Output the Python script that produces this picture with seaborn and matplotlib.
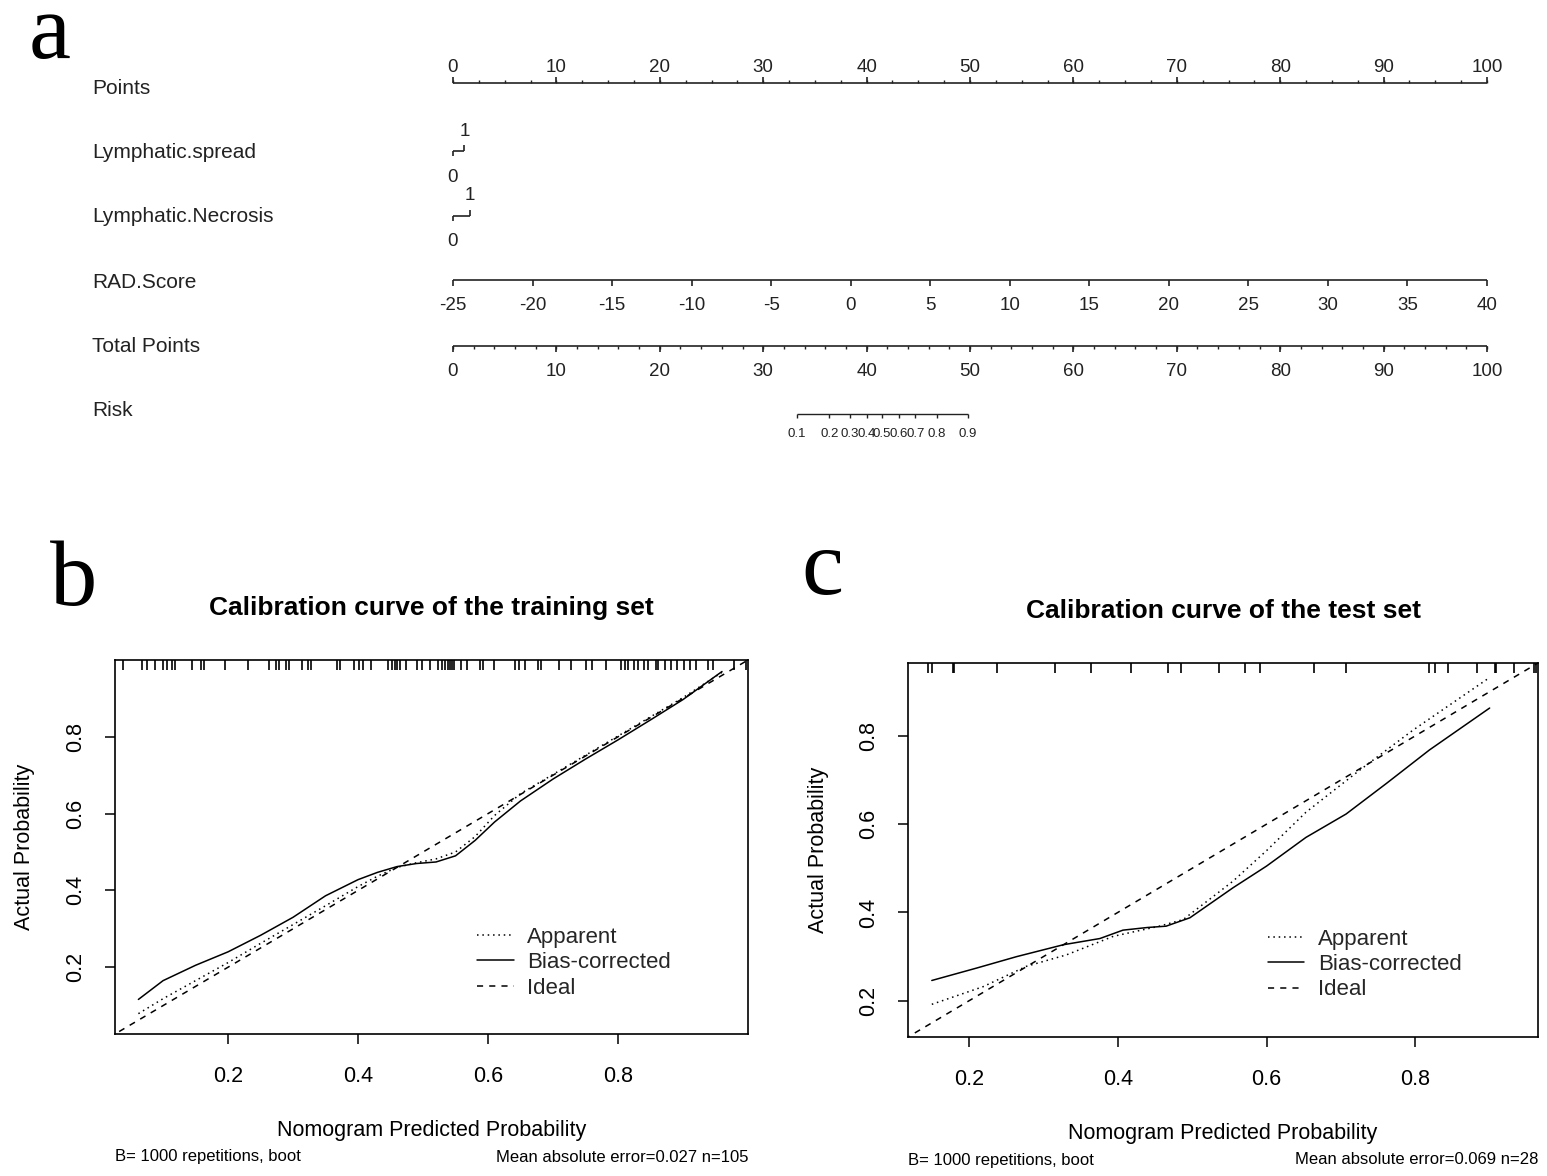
import numpy as np
import pandas as pd
import matplotlib
matplotlib.use("Agg")
import matplotlib.pyplot as plt
import seaborn as sns

# ---------------- data ----------------
# Nomogram (panel a)
nomo_labels = ["Points", "Lymphatic.spread", "Lymphatic.Necrosis", "RAD.Score", "Total Points", "Risk"]
points_ticks = [0, 10, 20, 30, 40, 50, 60, 70, 80, 90, 100]
spread_levels = ["0", "1"]
spread_points = [0.0, 1.1]
necrosis_levels = ["0", "1"]
necrosis_points = [0.0, 1.6]
rad_ticks = [-25, -20, -15, -10, -5, 0, 5, 10, 15, 20, 25, 30, 35, 40]
total_ticks = [0, 10, 20, 30, 40, 50, 60, 70, 80, 90, 100]
risk_ticks = ["0.1", "0.2", "0.3", "0.4", "0.5", "0.6", "0.7", "0.8", "0.9"]
risk_total_points = [33.24, 36.4, 38.4, 40.0, 41.5, 43.1, 44.7, 46.8, 49.8]

# Calibration, training set (panel b)
train_app_x = [0.062, 0.10, 0.15, 0.20, 0.25, 0.30, 0.35, 0.40, 0.43, 0.46, 0.49, 0.52,
               0.55, 0.58, 0.61, 0.65, 0.70, 0.75, 0.80, 0.85, 0.90, 0.96]
train_app_y = [0.079, 0.118, 0.165, 0.212, 0.262, 0.311, 0.360, 0.410, 0.437, 0.460, 0.472, 0.482,
               0.500, 0.540, 0.595, 0.652, 0.702, 0.752, 0.802, 0.852, 0.902, 0.968]
train_bc_x = [0.062, 0.10, 0.15, 0.20, 0.25, 0.30, 0.35, 0.40, 0.43, 0.46, 0.49, 0.52,
              0.55, 0.58, 0.61, 0.65, 0.70, 0.75, 0.80, 0.85, 0.90, 0.96]
train_bc_y = [0.116, 0.165, 0.205, 0.240, 0.283, 0.330, 0.386, 0.428, 0.447, 0.462, 0.470, 0.474,
              0.490, 0.530, 0.578, 0.633, 0.690, 0.742, 0.792, 0.844, 0.897, 0.970]
train_rug = [0.039, 0.068, 0.075, 0.087, 0.100, 0.106, 0.114, 0.119, 0.145, 0.159, 0.163, 0.195,
             0.231, 0.263, 0.273, 0.279, 0.289, 0.293, 0.313, 0.323, 0.327, 0.368, 0.372, 0.394,
             0.401, 0.407, 0.420, 0.446, 0.452, 0.457, 0.460, 0.465, 0.473, 0.491, 0.498, 0.510,
             0.523, 0.529, 0.534, 0.539, 0.542, 0.545, 0.548, 0.558, 0.568, 0.587, 0.593, 0.609,
             0.641, 0.648, 0.657, 0.677, 0.682, 0.709, 0.728, 0.750, 0.760, 0.782, 0.805, 0.811,
             0.816, 0.824, 0.830, 0.840, 0.846, 0.859, 0.862, 0.872, 0.882, 0.891, 0.901, 0.910,
             0.920, 0.939, 0.946, 0.978, 0.997]

# Calibration, test set (panel c)
test_app_x = [0.150, 0.219, 0.277, 0.331, 0.394, 0.456, 0.488, 0.532, 0.555, 0.600, 0.653, 0.725, 0.797, 0.899]
test_app_y = [0.192, 0.232, 0.278, 0.304, 0.346, 0.369, 0.384, 0.441, 0.471, 0.540, 0.627, 0.722, 0.813, 0.931]
test_bc_x = [0.150, 0.210, 0.264, 0.327, 0.376, 0.407, 0.440, 0.465, 0.497, 0.555, 0.600, 0.653, 0.707, 0.761, 0.819, 0.900]
test_bc_y = [0.246, 0.274, 0.300, 0.327, 0.341, 0.360, 0.366, 0.369, 0.388, 0.456, 0.505, 0.570, 0.623, 0.692, 0.768, 0.863]
test_rug = [0.145, 0.150, 0.179, 0.180, 0.237, 0.315, 0.364, 0.418, 0.467, 0.485, 0.536, 0.571, 0.591,
            0.664, 0.707, 0.818, 0.827, 0.844, 0.883, 0.907, 0.908, 0.933, 0.960, 0.962]
ideal = [0.0, 1.0]

# ---------------- style ----------------
sns.set_theme(style="white")
plt.rcParams['font.family'] = ['Liberation Sans', 'DejaVu Sans']
plt.rcParams['axes.edgecolor'] = 'black'
plt.rcParams['axes.linewidth'] = 1.1

W, H = 1547, 1176
fig = plt.figure(figsize=(W / 100, H / 100), dpi=100)
fig.patch.set_facecolor('white')

# ---------------- panel a: nomogram ----------------
TOP_H = 460
ppp = 10.34  # pixels per point
ax = fig.add_axes([0, 1 - TOP_H / H, 1, TOP_H / H])
ax.set_xlim(-453 / ppp, (W - 453) / ppp)
ax.set_ylim(TOP_H, 0)
ax.axis('off')
tcol = '#222222'
lc = '#222222'
lab_x = (92 - 453) / ppp
ax_fs = 13.5
var_fs = 15

row_y = {"Points": 89, "Lymphatic.spread": 152, "Lymphatic.Necrosis": 217,
         "RAD.Score": 282, "Total Points": 347, "Risk": 411}
for name in nomo_labels:
    ax.text(lab_x, row_y[name], name, ha='left', va='center', fontsize=var_fs, color=tcol)

# Points axis (ticks up, labels above)
y0 = 83
ax.hlines(y0, points_ticks[0], points_ticks[-1], color=lc, lw=1.2)
ax.vlines(points_ticks, y0 - 6, y0, color=lc, lw=1.2)
minor = np.arange(points_ticks[0], points_ticks[-1] + 0.01, 2.5)
ax.vlines(minor, y0 - 3, y0, color=lc, lw=1.0)
for t in points_ticks:
    ax.text(t, 67, str(t), ha='center', va='center', fontsize=ax_fs, color=tcol)

# Categorical rows
for (pts, lev, yl) in [(spread_points, spread_levels, 151), (necrosis_points, necrosis_levels, 216)]:
    ax.hlines(yl, pts[0], pts[1], color=lc, lw=1.2)
    ax.vlines(pts[0], yl, yl + 5, color=lc, lw=1.2)
    ax.vlines(pts[1], yl - 6, yl, color=lc, lw=1.2)
    ax.text(pts[0], yl + 26, lev[0], ha='center', va='center', fontsize=ax_fs, color=tcol)
    ax.text(pts[1], yl - 20, lev[1], ha='center', va='center', fontsize=ax_fs, color=tcol)

# RAD.Score axis
yr = 280
rad_pts = [(r - rad_ticks[0]) / (rad_ticks[-1] - rad_ticks[0]) * 100 for r in rad_ticks]
ax.hlines(yr, rad_pts[0], rad_pts[-1], color=lc, lw=1.2)
ax.vlines(rad_pts, yr, yr + 6, color=lc, lw=1.2)
for p, r in zip(rad_pts, rad_ticks):
    ax.text(p, 306, str(r), ha='center', va='center', fontsize=ax_fs, color=tcol)

# Total Points axis
yt = 346
ax.hlines(yt, total_ticks[0], total_ticks[-1], color=lc, lw=1.2)
ax.vlines(total_ticks, yt, yt + 6, color=lc, lw=1.2)
tminor = np.arange(total_ticks[0], total_ticks[-1] + 0.01, 2)
ax.vlines(tminor, yt, yt + 3, color=lc, lw=1.0)
for t in total_ticks:
    ax.text(t, 371, str(t), ha='center', va='center', fontsize=ax_fs, color=tcol)

# Risk axis
yk = 414
ax.hlines(yk, risk_total_points[0], risk_total_points[-1], color=lc, lw=1.0)
ax.vlines(risk_total_points, yk, yk + 4, color=lc, lw=1.0)
for p, r in zip(risk_total_points, risk_ticks):
    ax.text(p, 434, r, ha='center', va='center', fontsize=9.5, color=tcol)

# ---------------- panels b & c ----------------
def calib(rect, lims, app_x, app_y, bc_x, bc_y, rug, title, leg_xy, footer_r, ax_px_h=374):
    a = fig.add_axes(rect)
    sns.lineplot(x=app_x, y=app_y, ax=a, color='black', lw=1.1,
                 linestyle=(0, (1, 2.5)), label='Apparent')
    sns.lineplot(x=bc_x, y=bc_y, ax=a, color='black', lw=1.1,
                 linestyle='-', label='Bias-corrected')
    sns.lineplot(x=ideal, y=ideal, ax=a, color='black', lw=1.1,
                 linestyle=(0, (4, 4)), label='Ideal')
    a.set_xlim(*lims)
    a.set_ylim(*lims)
    a.set_xticks([0.2, 0.4, 0.6, 0.8])
    a.set_yticks([0.2, 0.4, 0.6, 0.8])
    a.set_xticklabels(['0.2', '0.4', '0.6', '0.8'])
    a.set_yticklabels(['0.2', '0.4', '0.6', '0.8'], rotation=90, va='center')
    a.tick_params(axis='both', direction='out', length=7, width=1.1, colors='black',
                  labelsize=15.5, left=True, bottom=True)
    a.tick_params(axis='x', pad=16)
    a.tick_params(axis='y', pad=14)
    for s in a.spines.values():
        s.set_visible(True)
        s.set_color('black')
        s.set_linewidth(1.2)
    a.vlines(rug, 1 - 10 / ax_px_h, 1, transform=a.get_xaxis_transform(), color='black', lw=1.2)
    a.set_xlabel('Nomogram Predicted Probability', fontsize=15.5, color='black')
    a.set_ylabel('Actual Probability', fontsize=15.5, color='black')
    a.xaxis.set_label_coords(0.5, -0.230)
    a.yaxis.set_label_coords(-0.126, 0.5)
    a.text(0.5, 1 + 52 / ax_px_h, title, transform=a.transAxes, ha='center', va='center',
           fontsize=19, fontweight='bold', color='black')
    a.legend(loc='upper left', bbox_to_anchor=leg_xy, frameon=False, fontsize=16,
             handlelength=1.65, handletextpad=0.6, labelspacing=0.2,
             borderaxespad=0, borderpad=0)
    fy = -(123 / ax_px_h)
    a.text(0, fy, 'B= 1000 repetitions, boot', transform=a.transAxes, ha='left', va='center',
           fontsize=12, color='black')
    a.text(1, fy, footer_r, transform=a.transAxes, ha='right', va='center',
           fontsize=12, color='black')
    return a

calib([115 / W, (H - 1034) / H, 633 / W, 374 / H], (0.026, 1.0),
      train_app_x, train_app_y, train_bc_x, train_bc_y, train_rug,
      'Calibration curve of the training set', (0.572, 0.287),
      'Mean absolute error=0.027 n=105')
calib([908 / W, (H - 1037) / H, 630 / W, 374 / H], (0.118, 0.965),
      test_app_x, test_app_y, test_bc_x, test_bc_y, test_rug,
      'Calibration curve of the test set', (0.571, 0.290),
      'Mean absolute error=0.069 n=28')

# panel letters
for ch, x, y in [('a', 50, 58), ('b', 74, 605), ('c', 822, 594)]:
    fig.text(x / W, 1 - y / H, ch, ha='center', va='baseline', fontsize=68,
             family=['Liberation Serif', 'DejaVu Serif'], color='black')

fig.savefig('out.png', dpi=100)
